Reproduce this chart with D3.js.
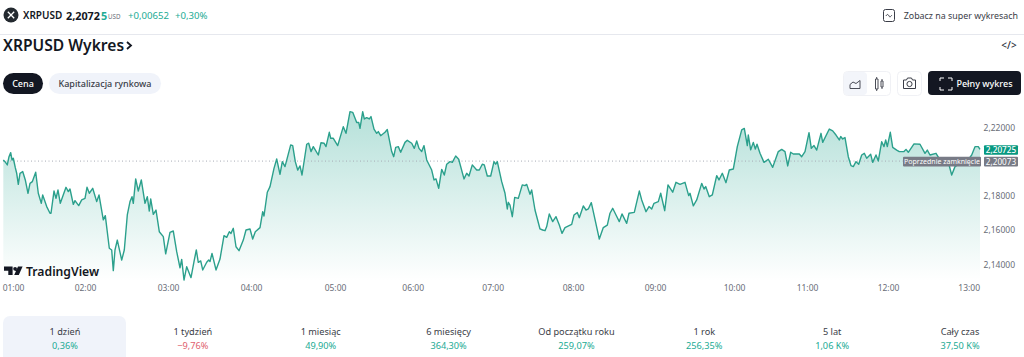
<!DOCTYPE html>
<html lang="pl"><head><meta charset="utf-8">
<script src="https://cdn.jsdelivr.net/npm/d3@7"></script>
<style>
html,body{margin:0;padding:0;background:#fff;overflow:hidden}
svg{display:block}
text{font-family:"Noto Sans","DejaVu Sans",sans-serif}
</style></head><body><div id="c"></div>
<script>
const barPos=[3.3,5,7.3,9,10.7,12,13.3,15.3,16.7,18.3,20,22.7,25.3,28,30,32.3,35.7,38.3,41.3,42.7,46.7,50,51,54,56,58,60.3,66,68.3,70,73.3,75,78.7,81.7,85,87,89.3,92.7,96.7,99,103.3,105.3,109.3,111.7,113.3,115,117.3,121.7,124.3,127.3,130,132,133.3,135.7,138.3,141.3,145,147.3,149.3,150.7,153.3,156,159.3,163.3,165.7,170,173.3,176.7,180,181.7,184,186.7,191,194,196.3,198.3,200.7,202.7,206.7,208.7,210,212,216,220,224,226.7,229.3,231,233.3,236,239,243.3,246,250,252.7,255.3,260,
262.7,264,267.3,270,274,276.7,280,282.3,285,290.7,292.7,295.3,297.7,300,302,306.7,308.7,311,313.3,318.3,321,324,326,329.3,330.7,333.3,337.7,343.3,346,350,352.7,356.7,358.7,360,362.7,364.3,366.7,369.3,371,374,376.7,378.3,380.7,385,387.3,391.7,393.7,395.7,398.3,400.7,405,407.3,411.7,414.3,416.7,419,421.7,424,426.7,431.7,434,436,438.7,441.7,444.3,446.7,450,452.3,455.7,458.7,464,466.7,469,472.3,476.7,479.3,482.3,484.3,487.3,490.7,494,495.7,497.3,501.7,505,507.3,508.3,510,
512.3,514.7,518.3,522.3,525,526.7,530,531.7,535,540,542.7,545,546.7,549.3,552.7,556,559.3,562,565,571.7,574,577.3,579.3,583.3,586,588.3,591.3,593.3,599.3,603.3,607.3,610,612.7,616,619.3,622,626.7,629,634.3,639.3,641.7,646,649,651.7,654,658.3,660.7,664.7,668,672.7,676,680,685,688.7,690,693.3,696.7,701.7,704,705.7,709.3,712.3,716.7,719,722.3,726,729.3,733.3,737.3,741.7,744.3,747.3,748.3,750.7,753.3,755.3,757,760,
764,768.3,772.7,778.3,781.7,785,787.7,790.7,793.3,799.3,801.7,805,809,811.3,814,816.7,821,822.7,829.3,832.7,836,839.3,840.7,842.7,845,848.3,851,853.3,856,858.7,861.7,864.3,866.7,870.7,872.7,876,878.3,881.7,884,885.7,887.3,890.3,892.7,896.7,899.3,904,906,908.3,914,920,925,927.3,930,936,940,945,947.3,951.7,955,960,966.7,971.7,975,978.3,980];
const closes=[2.2011,2.2001,2.1982,2.2030,2.2054,2.2011,2.2021,2.1966,2.1933,2.1868,2.1933,2.1943,2.1894,2.1816,2.1874,2.1884,2.1939,2.1816,2.1757,2.1806,2.1738,2.1699,2.1699,2.1829,2.1786,2.1835,2.1757,2.1851,2.1826,2.1841,2.1751,2.1773,2.1744,2.1777,2.1786,2.1851,2.1816,2.1845,2.1767,2.1806,2.1660,2.1685,2.1494,2.1484,2.1363,2.1484,2.1542,2.1425,2.1484,2.1689,2.1767,2.1796,2.1757,2.1900,2.1829,2.1894,2.1757,2.1796,2.1712,2.1783,2.1693,2.1718,2.1591,2.1562,2.1461,2.1587,2.1595,2.1474,2.1380,2.1429,2.1308,2.1386,2.1322,2.1416,2.1484,2.1412,2.1420,2.1367,2.1412,2.1425,2.1416,2.1464,2.1367,2.1431,2.1568,2.1558,2.1591,2.1581,2.1611,2.1503,2.1480,2.1542,2.1601,2.1607,2.1548,2.1591,2.1615,
2.1708,2.1683,2.1822,2.1855,2.1962,2.2017,2.1927,2.2001,2.1972,2.2099,2.2095,2.2001,2.1952,2.1976,2.1923,2.2103,2.2109,2.2060,2.2089,2.2040,2.2112,2.2109,2.2089,2.2173,2.2138,2.2138,2.2095,2.2206,2.2167,2.2294,2.2290,2.2230,2.2231,2.2196,2.2294,2.2251,2.2259,2.2251,2.2265,2.2192,2.2167,2.2177,2.2153,2.2173,2.2189,2.2060,2.2030,2.2085,2.2089,2.2056,2.2114,2.2126,2.2109,2.2079,2.2122,2.2079,2.2060,2.2095,2.2011,2.1952,2.1894,2.1900,2.1845,2.1956,2.1923,2.1986,2.2001,2.1997,2.2034,2.2015,2.1900,2.1933,2.1917,2.1982,2.1952,2.1952,2.1986,2.1982,2.1917,2.1917,2.2001,2.1986,2.2001,2.1884,2.1816,2.1724,2.1763,2.1747,
2.1679,2.1792,2.1786,2.1865,2.1861,2.1868,2.1810,2.1835,2.1718,2.1607,2.1601,2.1597,2.1621,2.1695,2.1650,2.1679,2.1630,2.1581,2.1615,2.1634,2.1689,2.1703,2.1673,2.1742,2.1718,2.1724,2.1761,2.1708,2.1548,2.1615,2.1630,2.1699,2.1728,2.1689,2.1650,2.1695,2.1640,2.1699,2.1704,2.1829,2.1777,2.1708,2.1738,2.1724,2.1757,2.1767,2.1816,2.1714,2.1865,2.1822,2.1880,2.1868,2.1880,2.1802,2.1816,2.1742,2.1777,2.1874,2.1841,2.1855,2.1796,2.1806,2.1919,2.1894,2.1933,2.1878,2.1952,2.1958,2.2089,2.2187,2.2196,2.2095,2.2157,2.2070,2.2114,2.2075,2.2103,2.2050,
2.1997,2.2015,2.1968,2.2060,2.2073,2.2060,2.1976,2.2056,2.2046,2.2046,2.2030,2.2060,2.2171,2.2079,2.2095,2.2069,2.2167,2.2114,2.2192,2.2181,2.2157,2.2128,2.2148,2.2134,2.2142,2.2030,2.1978,2.1972,2.2001,2.1986,2.2040,2.2050,2.2021,2.2044,2.1997,2.2040,2.2005,2.2118,2.2089,2.2128,2.2089,2.2173,2.2085,2.2069,2.2060,2.2060,2.2073,2.2056,2.2105,2.2103,2.2050,2.2069,2.2040,2.2050,2.2011,2.2001,2.2021,2.1923,2.1972,2.1991,2.2001,2.2040,2.2089,2.2089,2.20725];
const xTickBars=[13,85,168,251,335,412.7,492.7,573,655,734,807,888,968.7];
const xTickLabels=["01:00","02:00","03:00","04:00","05:00","06:00","07:00","08:00","09:00","10:00","11:00","12:00","13:00"];
const yTicks=[2.14,2.16,2.18,2.22];
const lastPrice=2.20725, prevClose=2.20073;
const rangeNames=["1 dzień","1 tydzień","1 miesiąc","6 miesięcy","Od początku roku","1 rok","5 lat","Cały czas"];
const rangeValues=["0,36%","−9,76%","49,90%","364,30%","259,07%","256,35%","1,06 K%","37,50 K%"];

const W=1024,H=357,ink="#131722",green="#22ab94",pale="#f0f3fa",muted="#6a6d78";
const svg=d3.select("#c").append("svg").attr("width",W).attr("height",H);
const T=(s,x,y,size,fill,weight,anchor)=>svg.append("text").text(s).attr("x",x).attr("y",y).attr("font-size",size)
  .attr("fill",fill).attr("font-weight",weight||400).attr("text-anchor",anchor||"start").attr("dominant-baseline","central");

// chart
const x=d3.scaleLinear().domain([3,980]).range([3,980]);
const y=d3.scaleLinear().domain([2.13,2.23]).range([281.4,110.6]);
const defs=svg.append("defs");
const g=defs.append("linearGradient").attr("id","ag").attr("gradientUnits","userSpaceOnUse").attr("x1",0).attr("x2",0).attr("y1",y(2.23)).attr("y2",y(2.13));
g.append("stop").attr("offset",0).attr("stop-color","#089981").attr("stop-opacity",.3);
g.append("stop").attr("offset",1).attr("stop-color","#089981").attr("stop-opacity",0);
const pts=barPos.map((b,i)=>[b,closes[i]]);
svg.append("path").datum(pts).attr("fill","url(#ag)")
  .attr("d",d3.area().x(d=>x(d[0])).y0(y(2.13)).y1(d=>y(d[1])));
svg.append("line").attr("x1",x(3)).attr("x2",x(904)).attr("y1",y(prevClose)+.5).attr("y2",y(prevClose)+.5)
  .attr("stroke","#a8abb5").attr("stroke-width",1).attr("stroke-dasharray","1 2.5");
svg.append("path").datum(pts).attr("fill","none").attr("stroke","#2ba08c").attr("stroke-width",1.4).attr("stroke-linejoin","round")
  .attr("d",d3.line().x(d=>x(d[0])).y(d=>y(d[1])));

const xa=svg.append("g").attr("transform","translate(0,284)")
  .call(d3.axisBottom(x).tickValues(xTickBars).tickFormat((d,i)=>xTickLabels[i]).tickSize(0).tickPadding(2));
xa.select(".domain").remove();
xa.selectAll("text").attr("font-size",8.5).attr("fill",muted).attr("font-family","'Noto Sans',sans-serif").attr("dy","0.55em");
const fmt=v=>v.toFixed(5).replace(".",",");
const ya=svg.append("g").attr("transform","translate(1015,0)")
  .call(d3.axisLeft(y).tickValues(yTicks).tickFormat(fmt).tickSize(0).tickPadding(0));
ya.select(".domain").remove();
ya.selectAll("text").attr("font-size",8.5).attr("fill",muted).attr("font-family","'Noto Sans',sans-serif");

// price tags
const tag=(x0,w,cy,fill)=>svg.append("rect").attr("x",x0).attr("y",cy-4.8).attr("width",w).attr("height",9.6).attr("rx",1).attr("fill",fill);
const yLast=y(lastPrice)+.5, yPrev=y(prevClose)+1;
tag(984,34,yLast,"#089981"); T(fmt(lastPrice),1001,yLast,8.2,"#fff",500,"middle");
tag(903,78,yPrev,"#787b86"); T("Poprzednie zamknięcie",942,yPrev,7,"#fff",400,"middle");
tag(984,34,yPrev,"#787b86"); T(fmt(prevClose),1001,yPrev,8.2,"#fff",400,"middle");

// TradingView logo
svg.append("path").attr("fill",ink).attr("d","M4 266.5h8.6v8.5h-4.3v-4.3H4zM13.2 268.8a1.9 1.9 0 1 0 3.8 0a1.9 1.9 0 1 0-3.8 0zM18 266.5h4.6l-3.8 8.5h-4.6z");
T("TradingView",26,271,12.2,ink,600);

// header
svg.append("line").attr("x1",0).attr("x2",W).attr("y1",34.5).attr("y2",34.5).attr("stroke","#e6e8ee");
svg.append("circle").attr("cx",11).attr("cy",15).attr("r",7.5).attr("fill","#23292f");
svg.append("path").attr("stroke","#fff").attr("stroke-width",1.3).attr("fill","none").attr("d","M7.8 11.8l6.4 6.4M14.2 11.8l-6.4 6.4");
T("XRPUSD",23,15,10,ink,600);
T("2,2072",66,15,10.8,ink,700);
T("5",101,15,10.8,green,700);
T("USD",108,16,6.2,muted);
T("+0,00652",128,15,9.6,green);
T("+0,30%",175,15,9.6,green);
svg.append("rect").attr("x",883.5).attr("y",9.5).attr("width",11).attr("height",12).attr("rx",2).attr("fill","none").attr("stroke","#3a3d47");
svg.append("path").attr("d","M886 16c1-2 2-2 3 0s2 0 3-1").attr("fill","none").attr("stroke","#3a3d47");
T("Zobacz na super wykresach",1018,15,8.9,"#3a3d47",400,"end");
T("XRPUSD Wykres",3,45,15.6,ink,600);
svg.append("path").attr("d","M127 42l4 3.5l-4 3.5").attr("fill","none").attr("stroke",ink).attr("stroke-width",1.8);
T("</>",1009,45,10,"#2a2e39",500,"middle");

// pills
svg.append("rect").attr("x",3).attr("y",73).attr("width",40).attr("height",21).attr("rx",10.5).attr("fill",ink);
T("Cena",23,83.5,9,"#fff",500,"middle");
svg.append("rect").attr("x",49).attr("y",73).attr("width",112).attr("height",21).attr("rx",10.5).attr("fill",pale);
T("Kapitalizacja rynkowa",105,83.5,9,"#3a3d47",500,"middle");

// toolbar
svg.append("rect").attr("x",843.5).attr("y",71.5).attr("width",47).attr("height",24).attr("rx",4).attr("fill","#fff").attr("stroke","#f0f1f5");
svg.append("rect").attr("x",844).attr("y",72).attr("width",23).attr("height",23).attr("rx",4).attr("fill","#f3f5fa");
svg.append("path").attr("d","M850 88.5v-4l3-2.5l3 1.5l4-3v8z").attr("fill","none").attr("stroke","#4a4d57");
svg.append("path").attr("d","M875.5 79h2.5v10h-2.5zM876.7 77v2M876.7 89v2M881 81h2v6h-2zM882 79v2M882 87v2").attr("fill","none").attr("stroke","#4a4d57");
svg.append("rect").attr("x",897.5).attr("y",71.5).attr("width",24).attr("height",24).attr("rx",4).attr("fill","#fff").attr("stroke","#f0f1f5");
svg.append("path").attr("d","M903.5 80h3l1-2h4l1 2h3v8.5h-12z").attr("fill","none").attr("stroke","#3a3d47");
svg.append("circle").attr("cx",909.5).attr("cy",84).attr("r",2.6).attr("fill","none").attr("stroke","#3a3d47");
svg.append("rect").attr("x",928).attr("y",71).attr("width",93).attr("height",24).attr("rx",4).attr("fill",ink);
svg.append("path").attr("d","M944 78h-4v3M948 78h4v3M944 90h-4v-3M948 90h4v-3").attr("fill","none").attr("stroke","#fff");
T("Pełny wykres",984.5,83,9,"#fff",500,"middle");

// range tabs
svg.append("rect").attr("x",3).attr("y",316).attr("width",123).attr("height",50).attr("rx",7).attr("fill",pale);
const tabX=d3.scalePoint().domain(rangeNames).range([65,960]);
rangeNames.forEach((n,i)=>{
  T(n,tabX(n),331,9.2,"#3a3d47",400,"middle");
  T(rangeValues[i],tabX(n),345,9.2,rangeValues[i].startsWith("−")?"#e0616e":green,400,"middle");
});
</script></body></html>
